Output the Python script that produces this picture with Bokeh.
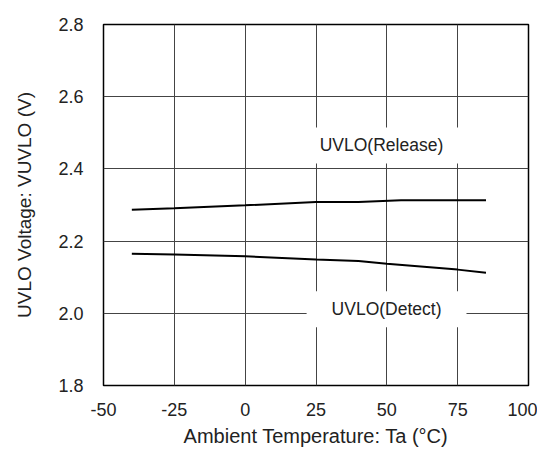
from bokeh.plotting import figure
from bokeh.models import Range1d, Label, FixedTicker, CustomJSTickFormatter
from bokeh.embed import file_html
from bokeh.resources import INLINE

temp = [-40, -25, 0, 25, 40, 55, 85]
release = [2.287, 2.291, 2.299, 2.308, 2.308, 2.313, 2.313]
temp_d = [-40, -25, 0, 25, 40, 50, 75, 85]
detect = [2.165, 2.163, 2.158, 2.149, 2.145, 2.137, 2.121, 2.112]
x_ticks = [-50, -25, 0, 25, 50, 75, 100]
y_ticks = [1.8, 2.0, 2.2, 2.4, 2.6, 2.8]
x_title = "Ambient Temperature: Ta (°C)"
y_title = "UVLO Voltage: VUVLO (V)"

FONT = "Liberation Sans"
W, H = 537, 449

p = figure(width=W, height=H, output_backend="svg", toolbar_location=None,
           x_range=Range1d(-50, 100), y_range=Range1d(1.8, 2.8),
           min_border_left=103, min_border_right=9, min_border_top=24, min_border_bottom=64)
p.outline_line_color = "black"
p.outline_line_width = 1.5
p.background_fill_color = "white"
p.border_fill_color = "white"

p.xaxis.ticker = FixedTicker(ticks=x_ticks)
p.yaxis.ticker = FixedTicker(ticks=y_ticks)
p.xaxis.formatter = CustomJSTickFormatter(code="return tick.toString();")
p.yaxis.formatter = CustomJSTickFormatter(code="return tick.toFixed(1);")

for ax in (p.xaxis[0], p.yaxis[0]):
    ax.axis_line_color = None
    ax.major_tick_line_color = None
    ax.minor_tick_line_color = None
    ax.major_tick_out = 0
    ax.major_tick_in = 0
    ax.minor_tick_out = 0
    ax.major_label_text_font = FONT
    ax.major_label_text_font_size = "18px"
    ax.major_label_text_color = "#222222"
    ax.axis_label_text_font = FONT
    ax.axis_label_text_font_style = "normal"
    ax.axis_label_text_color = "#222222"

p.xaxis.axis_label = x_title
p.yaxis.axis_label = y_title
p.xaxis.axis_label_text_font_size = "20px"
p.yaxis.axis_label_text_font_size = "19px"
p.xaxis.major_label_standoff = 17
p.yaxis.major_label_standoff = 20
p.xaxis.axis_label_standoff = 6
p.yaxis.axis_label_standoff = 20

p.xgrid.grid_line_color = "#444444"
p.ygrid.grid_line_color = "#444444"
p.xgrid.grid_line_width = 1
p.ygrid.grid_line_width = 1

p.line(temp, release, line_color="black", line_width=2)
p.line(temp_d, detect, line_color="black", line_width=2)

p.add_layout(Label(x=48.1, y=2.465, text="UVLO(Release)", text_align="center",
                   text_baseline="middle", text_font=FONT, text_font_size="17.5px",
                   text_color="#222222", background_fill_color="white",
                   padding=[18, 8]))
p.add_layout(Label(x=49.9, y=2.011, text="UVLO(Detect)", text_align="center",
                   text_baseline="middle", text_font=FONT, text_font_size="17.5px",
                   text_color="#222222", background_fill_color="white",
                   padding=[25, 8]))

open("out.html", "w").write(file_html(p, INLINE))
